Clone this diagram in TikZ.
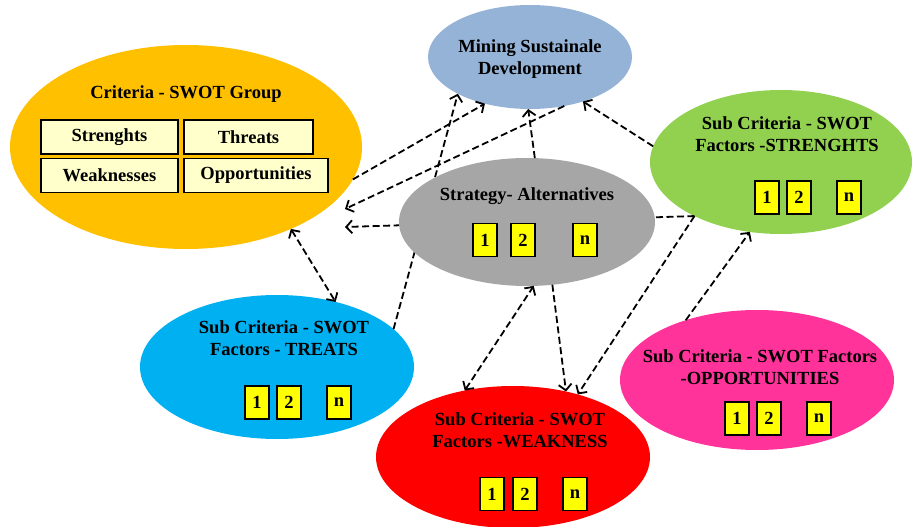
\documentclass[tikz,border=0pt]{standalone}
\usepackage{fontspec}
\setmainfont{Liberation Serif}
\usetikzlibrary{shapes.geometric,arrows.meta}
\begin{document}
\begin{tikzpicture}[x=1pt,y=-1pt,
  bubble/.style={ellipse,draw=none,inner sep=0pt,outer sep=0pt},
  caption/.style={inner sep=0pt,align=center,text=black,font=\bfseries\fontsize{18.5}{21.5}\selectfont},
  swotbox/.style={draw=black,line width=1.3pt,fill={rgb,255:red,255;green,255;blue,204},minimum height=34pt,inner sep=0pt,font=\bfseries\fontsize{18.5}{21.5}\selectfont},
  numbox/.style={draw=black,line width=1.3pt,fill={rgb,255:red,255;green,255;blue,0},minimum width=24pt,minimum height=33pt,inner sep=0pt,font=\bfseries\fontsize{18.5}{21.5}\selectfont},
  dashlink/.style={draw=black,line width=1.8pt,dash pattern=on 7pt off 3.5pt,-{Straight Barb[length=6pt,width=13pt]}},
  twoway/.style={dashlink,{Straight Barb[length=6pt,width=13pt]}-{Straight Barb[length=6pt,width=13pt]}}]
\path[use as bounding box] (0,0) rectangle (914,527);
\path[fill=white,draw=none] (0,0) rectangle (914,527);
\node[bubble,fill={rgb,255:red,255;green,192;blue,0},minimum width=352pt,minimum height=204pt] (criteria) at (186,147) {};
\node[caption] (criteria-title) at (186,94) {Criteria - SWOT Group};
\node[swotbox,minimum width=137pt] (strenghts-box) at (109.5,137) {Strenghts};
\node[swotbox,minimum width=129pt] (threats-box) at (248.5,137) {Threats};
\node[swotbox,minimum width=137pt] (weaknesses-box) at (109.5,175.5) {Weaknesses};
\node[swotbox,minimum width=144pt] (opportunities-box) at (256,175.5) {Opportunities};
\node[bubble,fill={rgb,255:red,149;green,179;blue,215},minimum width=204pt,minimum height=104pt] (mining) at (530,57) {};
\node[caption] (mining-title) at (530,59) {Mining Sustainale\\Development};
\node[bubble,fill={rgb,255:red,146;green,208;blue,80},minimum width=262pt,minimum height=144pt] (strengths) at (781,162) {};
\node[caption] (strengths-title) at (787,134) {Sub Criteria - SWOT\\Factors -STRENGHTS};
\node[numbox] (strengths-1) at (767,197.5) {1};
\node[numbox] (strengths-2) at (799,197.5) {2};
\node[numbox] (strengths-n) at (849,197.5) {n};
\node[bubble,fill={rgb,255:red,0;green,176;blue,240},minimum width=274pt,minimum height=144pt] (threats) at (277,367) {};
\node[caption] (threats-title) at (284,338) {Sub Criteria - SWOT\\Factors - TREATS};
\node[numbox] (threats-1) at (257,402.5) {1};
\node[numbox] (threats-2) at (289,402.5) {2};
\node[numbox] (threats-n) at (339,402.5) {n};
\node[bubble,fill={rgb,255:red,255;green,0;blue,0},minimum width=274pt,minimum height=142pt] (weakness) at (513,457) {};
\node[caption] (weakness-title) at (520,430) {Sub Criteria - SWOT\\Factors -WEAKNESS};
\node[numbox] (weakness-1) at (492,494) {1};
\node[numbox] (weakness-2) at (525,494) {2};
\node[numbox] (weakness-n) at (575,494) {n};
\node[bubble,fill={rgb,255:red,255;green,51;blue,153},minimum width=274pt,minimum height=140pt] (opportunities) at (757,380) {};
\node[caption] (opportunities-title) at (760,367) {Sub Criteria - SWOT Factors\\-OPPORTUNITIES};
\node[numbox] (opportunities-1) at (737,418.5) {1};
\node[numbox] (opportunities-2) at (769,418.5) {2};
\node[numbox] (opportunities-n) at (819,418.5) {n};
\coordinate (criteria-tip-a) at (345,209);
\coordinate (criteria-tip-b) at (345,227);
\draw[dashlink] (threats.18) -- (mining.207);
\draw[dashlink] (strengths.212) -- (criteria-tip-b);
\node[bubble,fill={rgb,255:red,166;green,166;blue,166},minimum width=256pt,minimum height=128pt] (strategy) at (527,222) {};
\node[caption] (strategy-title) at (527,196) {Strategy- Alternatives};
\node[numbox] (strategy-1) at (485,240) {1};
\node[numbox] (strategy-2) at (523,240) {2};
\node[numbox] (strategy-n) at (585,240) {n};
\draw[dashlink] (criteria.-11) -- (mining.226);
\draw[dashlink] (mining.-55) -- (criteria-tip-a);
\draw[dashlink] (strategy.83) -- (mining.268);
\draw[dashlink] (strengths.173) -- (mining.-40);
\draw[dashlink] (strengths.212) -- (weakness.44);
\draw[dashlink] (opportunities.140) -- (strengths.246);
\draw[dashlink] (strategy.-68) -- (weakness.51);
\draw[twoway] (weakness.126) -- (strategy.-84);
\draw[twoway] (criteria.-38) -- (threats.48);
\end{tikzpicture}
\end{document}
